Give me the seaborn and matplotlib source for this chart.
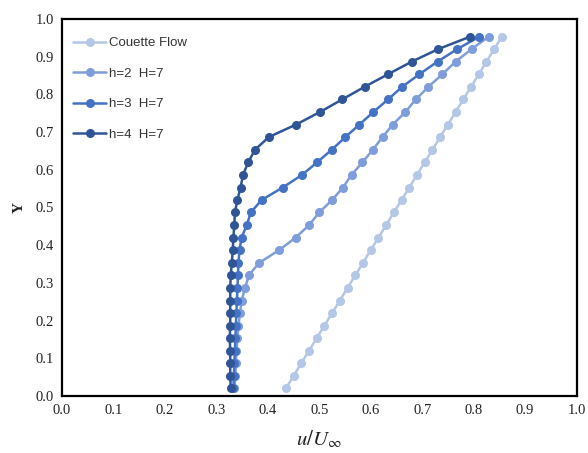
import matplotlib
matplotlib.use("Agg")
import matplotlib.pyplot as plt
import seaborn as sns
import pandas as pd
from matplotlib.lines import Line2D

# ---- data ----
Y = [0.020, 0.053, 0.087, 0.120, 0.153, 0.187, 0.220, 0.253, 0.287, 0.320,
     0.353, 0.387, 0.420, 0.453, 0.487, 0.520, 0.553, 0.587, 0.620, 0.653,
     0.687, 0.720, 0.753, 0.787, 0.820, 0.853, 0.887, 0.920, 0.953]

u_couette = [0.435, 0.450, 0.465, 0.480, 0.495, 0.510, 0.525, 0.540, 0.555, 0.570,
             0.585, 0.600, 0.615, 0.630, 0.645, 0.660, 0.675, 0.690, 0.705, 0.720,
             0.735, 0.750, 0.765, 0.780, 0.795, 0.810, 0.825, 0.840, 0.855]

u_h2 = [0.335, 0.337, 0.338, 0.339, 0.341, 0.343, 0.346, 0.349, 0.356, 0.363,
        0.383, 0.422, 0.454, 0.480, 0.500, 0.525, 0.546, 0.563, 0.584, 0.604,
        0.623, 0.643, 0.667, 0.688, 0.712, 0.739, 0.765, 0.796, 0.829]

u_h3 = [0.333, 0.334, 0.335, 0.336, 0.337, 0.338, 0.339, 0.340, 0.341, 0.342,
        0.343, 0.345, 0.349, 0.359, 0.367, 0.388, 0.429, 0.467, 0.496, 0.524,
        0.551, 0.578, 0.605, 0.634, 0.661, 0.694, 0.730, 0.768, 0.811]

u_h4 = [0.328, 0.327, 0.327, 0.327, 0.326, 0.327, 0.327, 0.327, 0.327, 0.328,
        0.330, 0.332, 0.333, 0.335, 0.336, 0.341, 0.347, 0.352, 0.362, 0.375,
        0.402, 0.455, 0.501, 0.545, 0.588, 0.633, 0.680, 0.731, 0.793]

series_names = ["Couette Flow", "h=2  H=7", "h=3  H=7", "h=4  H=7"]
series_values = [u_couette, u_h2, u_h3, u_h4]
colors = ["#b4c7e7", "#7f9ddb", "#4472c4", "#2f5597"]

xticks = [0.0, 0.1, 0.2, 0.3, 0.4, 0.5, 0.6, 0.7, 0.8, 0.9, 1.0]
yticks = [0.0, 0.1, 0.2, 0.3, 0.4, 0.5, 0.6, 0.7, 0.8, 0.9, 1.0]

rows = []
for name, vals in zip(series_names, series_values):
    for i, (u, y) in enumerate(zip(vals, Y)):
        rows.append({"series": name, "u": u, "Y": y, "i": i})
df = pd.DataFrame(rows)

sns.set_style("white")
plt.rcParams["mathtext.fontset"] = "stix"
fig = plt.figure(figsize=(5.88, 4.53), dpi=100)
ax = fig.add_axes([62 / 588, 57 / 453, 514.5 / 588, 377 / 453])

palette = dict(zip(series_names, colors))
sns.lineplot(data=df, x="u", y="Y", hue="series", palette=palette,
             hue_order=series_names, sort=False, estimator=None, units="series",
             marker="o", markersize=6.5, markeredgewidth=0, linewidth=1.8,
             legend=False, ax=ax)

ax.set_xlim(0, 1.0)
ax.set_ylim(0, 1.0)
ax.set_xticks(xticks)
ax.set_yticks(yticks)
ax.set_xticklabels([f"{t:.1f}" for t in xticks], fontfamily="Liberation Serif", fontsize=10.5)
ax.set_yticklabels([f"{t:.1f}" for t in yticks], fontfamily="Liberation Serif", fontsize=10.5)
ax.tick_params(length=0, pad=6, colors="#222222")

for s in ax.spines.values():
    s.set_color("black")
    s.set_linewidth(1.6)

ax.set_xlabel(r"$u/U_{\infty}$", fontsize=15, labelpad=8, color="#222222")
ax.set_ylabel("Y", fontfamily="Liberation Serif", fontweight="bold", fontsize=11,
              labelpad=7, color="#222222")

handles = [Line2D([0], [0], color=c, lw=1.8, marker="o", markersize=6.5, markeredgewidth=0)
           for c in colors]
leg = ax.legend(handles, series_names, loc="upper left", bbox_to_anchor=(0.022, 0.952),
                frameon=False, borderpad=0, borderaxespad=0, handlelength=2.5,
                handletextpad=0.2, labelspacing=1.38,
                prop={"family": "Liberation Sans", "size": 9.5})
for t in leg.get_texts():
    t.set_color("#333333")

fig.savefig("out.png", dpi=100)
